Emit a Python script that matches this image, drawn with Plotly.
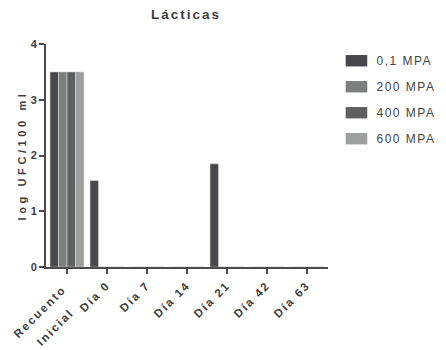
import plotly.graph_objects as go

# Data: log UFC/100 ml of lactic bacteria per pressure treatment
categories = ["Recuento<br>Inicial", "Día 0", "Día 7", "Día 14", "Día 21", "Día 42", "Día 63"]
mpa_0_1 = [3.5, 1.55, 0, 0, 1.85, 0, 0]
mpa_200 = [3.5, 0, 0, 0, 0, 0, 0]
mpa_400 = [3.5, 0, 0, 0, 0, 0, 0]
mpa_600 = [3.5, 0, 0, 0, 0, 0, 0]

series_names = ["0,1 MPA", "200 MPA", "400 MPA", "600 MPA"]
series_values = [mpa_0_1, mpa_200, mpa_400, mpa_600]
series_colors = ["#48484c", "#7d7f7f", "#5f5f61", "#9ea0a0"]

FONT = "Liberation Sans, Arial, sans-serif"
INK = "#3c3c3c"

fig = go.Figure()
for name, vals, col in zip(series_names, series_values, series_colors):
    fig.add_trace(go.Bar(
        x=categories, y=vals, name=name, legendgroup=name,
        marker=dict(color=col, line=dict(color="#d8d8d8", width=0.6)),
    ))

fig.update_layout(
    width=446, height=350,
    margin=dict(l=46, r=118, t=44, b=83),
    paper_bgcolor="white", plot_bgcolor="white",
    barmode="group", bargap=0.15, bargroupgap=0,
    font=dict(family=FONT, color=INK),
    title=dict(
        text="<b>Lácticas</b>", x=186 / 446, xanchor="center",
        y=1 - 14 / 350, yanchor="middle",
        font=dict(size=13.5, color=INK),
    ),
    legend=dict(
        x=1.03, y=0.99, xanchor="left", yanchor="top",
        font=dict(size=12, color="#444444"),
        tracegroupgap=7, itemsizing="constant",
        bgcolor="rgba(0,0,0,0)",
    ),
    showlegend=True,
)

fig.update_xaxes(
    type="category", range=[-0.525, 6.525],
    showline=True, linecolor="#4a4a4a", linewidth=2,
    ticks="outside", ticklen=5, tickwidth=2, tickcolor="#4a4a4a",
    tickangle=-45, tickfont=dict(size=11.5, color=INK, weight="bold"),
    showgrid=False, zeroline=False, automargin=False,
)
fig.update_yaxes(
    range=[0, 4], dtick=1,
    showline=True, linecolor="#4a4a4a", linewidth=2,
    ticks="outside", ticklen=5, tickwidth=2, tickcolor="#4a4a4a",
    tickfont=dict(size=11, color=INK, weight="bold"),
    title=dict(text="<b>log UFC/100 ml</b>", font=dict(size=11, color=INK), standoff=2),
    showgrid=False, zeroline=False, automargin=False,
)

# Letter spacing, wider legend swatches, and centred two-line tick label
post = """
var css = document.createElement('style');
css.textContent =
  '.js-plotly-plot .gtitle{letter-spacing:2px}' +
  '.js-plotly-plot .ytitle{letter-spacing:3.6px}' +
  '.js-plotly-plot .xtick text{letter-spacing:2px}' +
  '.js-plotly-plot .legendtext{letter-spacing:1.5px}';
document.head.appendChild(css);
var gd = document.getElementsByClassName('plotly-graph-div')[0];
gd.querySelectorAll('.legendpoints path').forEach(function(p){
  var tr = p.getAttribute('transform') || '';
  p.setAttribute('transform', tr + ' scale(1.8,0.95)');
  p.style.strokeWidth = '0';
});
gd.querySelectorAll('.legend [clip-path]').forEach(function(e){ e.removeAttribute('clip-path'); });
gd.querySelectorAll('.xtick text').forEach(function(t){
  var lines = t.querySelectorAll('tspan.line');
  if (lines.length < 2) return;
  var W = 0;
  lines.forEach(function(s){ W = Math.max(W, s.getComputedTextLength()); });
  var x0 = parseFloat(t.getAttribute('x'));
  t.setAttribute('text-anchor', 'middle');
  lines.forEach(function(s, i){
    s.setAttribute('x', x0 - 6 - W / 2);
    if (i > 0) s.setAttribute('dy', '1.9em');
  });
});
"""

fig.write_html("out.html", post_script=post)
